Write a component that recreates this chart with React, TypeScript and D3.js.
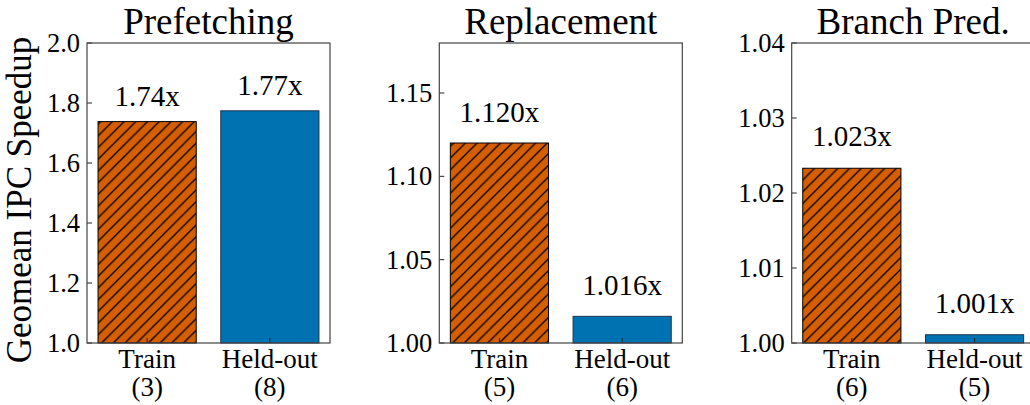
import React from "react";
import * as d3 from "d3";

const categories = ["Train", "Held-out"];
const panelTitles = ["Prefetching", "Replacement", "Branch Pred."];
const trainCounts = [3, 5, 6];
const heldCounts = [8, 6, 5];
const trainValues = [1.738, 1.12, 1.0233];
const heldValues = [1.774, 1.016, 1.0011];
const yDomains: [number, number][] = [[1.0, 2.0], [1.0, 1.18], [1.0, 1.04]];
const yTicks = [
  [1.0, 1.2, 1.4, 1.6, 1.8, 2.0],
  [1.0, 1.05, 1.1, 1.15],
  [1.0, 1.01, 1.02, 1.03, 1.04],
];
const tickDecimals = [1, 2, 2];
const labelDecimals = [2, 3, 3];
const labelOffsets = [16, 21, 22];

const ORANGE = "#D55E00";
const BLUE = "#0072B2";
const FONT = "Liberation Serif, Times New Roman, serif";

const W = 1030;
const H = 405;
const panelLefts = [87, 439.3, 791.7];
const axW = 243;
const top = 43;
const bottom = 343;

export default function App() {
  const hatch = 11.7;
  return (
    <svg
      width={W}
      height={H}
      style={{ position: "absolute", left: 0, top: 0, background: "#fff", fontFamily: FONT }}
    >
      <defs>
        <pattern id="hatch" patternUnits="userSpaceOnUse" width={hatch} height={hatch}>
          <rect width={hatch} height={hatch} fill={ORANGE} />
          <path
            d={`M0,${hatch} L${hatch},0 M${-hatch / 2},${hatch / 2} L${hatch / 2},${-hatch / 2} M${hatch / 2},${hatch * 1.5} L${hatch * 1.5},${hatch / 2}`}
            stroke="#000"
            strokeWidth={1.3}
          />
        </pattern>
      </defs>
      <rect width={W} height={H} fill="#fff" />
      <text
        transform={`translate(31,${(top + bottom) / 2 + 7}) rotate(-90)`}
        textAnchor="middle"
        fontSize={35}
        fill="#000"
      >
        Geomean IPC Speedup
      </text>
      {panelTitles.map((title, p) => {
        const left = panelLefts[p];
        const x = d3.scaleLinear().domain([-0.49, 1.49]).range([left, left + axW]);
        const y = d3.scaleLinear().domain(yDomains[p]).range([bottom, top]);
        const vals = [trainValues[p], heldValues[p]];
        const counts = [trainCounts[p], heldCounts[p]];
        const bw = x(0.8) - x(0);
        const fmtT = d3.format(`.${tickDecimals[p]}f`);
        const fmtL = d3.format(`.${labelDecimals[p]}f`);
        return (
          <g key={title}>
            <text
              x={left + axW / 2}
              y={34}
              textAnchor="middle"
              fontSize={37}
              fill="#000"
            >
              {title}
            </text>
            {vals.map((v, i) => (
              <g key={i}>
                <rect
                  x={x(i) - bw / 2}
                  y={y(v)}
                  width={bw}
                  height={y(yDomains[p][0]) - y(v)}
                  fill={i === 0 ? "url(#hatch)" : BLUE}
                  stroke={i === 0 ? "#000" : "#1b3550"}
                  strokeWidth={1}
                />
                <text
                  x={x(i)}
                  y={y(v) - labelOffsets[p]}
                  textAnchor="middle"
                  fontSize={29}
                  fill="#000"
                >
                  {fmtL(v)}x
                </text>
                <line
                  x1={x(i)}
                  x2={x(i)}
                  y1={bottom}
                  y2={bottom - 5}
                  stroke="#222"
                  strokeWidth={1}
                />
                <text x={x(i)} y={368} textAnchor="middle" fontSize={27} fill="#000">
                  {categories[i]}
                </text>
                <text x={x(i)} y={396} textAnchor="middle" fontSize={27} fill="#000">
                  ({counts[i]})
                </text>
              </g>
            ))}
            {yTicks[p].map((t) => (
              <g key={t}>
                <line
                  x1={left}
                  x2={left + 5}
                  y1={y(t)}
                  y2={y(t)}
                  stroke="#222"
                  strokeWidth={1}
                />
                <text
                  x={left - 7}
                  y={y(t)}
                  dy="0.34em"
                  textAnchor="end"
                  fontSize={26.5}
                  fill="#000"
                >
                  {fmtT(t)}
                </text>
              </g>
            ))}
            <rect
              x={left}
              y={top}
              width={axW}
              height={bottom - top}
              fill="none"
              stroke="#444"
              strokeWidth={1.2}
            />
          </g>
        );
      })}
    </svg>
  );
}
